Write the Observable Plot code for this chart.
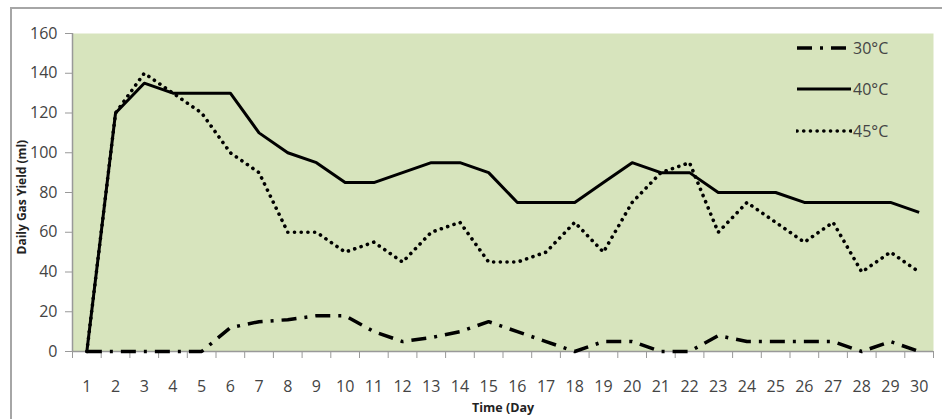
<!DOCTYPE html>
<html>
<head>
<meta charset="utf-8">
<script src="https://cdn.jsdelivr.net/npm/d3@7"></script>
<script src="https://cdn.jsdelivr.net/npm/@observablehq/plot@0.6"></script>
<style>
  html, body { margin: 0; padding: 0; background: #fff; }
  #wrap { position: relative; width: 942px; height: 419px; overflow: hidden; font-family: "Open Sans", sans-serif; }
  #border { position: absolute; left: 10px; top: 7px; width: 960px; height: 440px; border: 2px solid #a6a6a6; box-sizing: border-box; pointer-events: none; }
  #legend { position: absolute; left: 796px; top: 27px; }
  #legend .row { display: flex; align-items: center; height: 41.5px; }
  #legend span { font-size: 16px; color: #444; margin-left: 1px; }
</style>
</head>
<body>
<div id="wrap"><div id="border"></div><div id="chart"></div><div id="legend"></div></div>
<script>
const days = [1,2,3,4,5,6,7,8,9,10,11,12,13,14,15,16,17,18,19,20,21,22,23,24,25,26,27,28,29,30];
const t30 = [0,0,0,0,0,12,15,16,18,18,10,5,7,10,15,10,5,0,5,5,0,0,8,5,5,5,5,0,5,0];
const t40 = [0,120,135,130,130,130,110,100,95,85,85,90,95,95,90,75,75,75,85,95,90,90,80,80,80,75,75,75,75,70];
const t45 = [0,120,140,130,120,100,90,60,60,50,55,45,60,65,45,45,50,65,50,75,90,95,60,75,65,55,65,40,50,40];
const yTicks = [0,20,40,60,80,100,120,140,160];
const seriesNames = ["30°C","40°C","45°C"];
const yLabel = "Daily Gas Yield (ml)";
const xLabel = "Time (Day";

const styles = {
  "30°C": {strokeWidth: 3.5, strokeDasharray: "15,8,3,8", strokeLinecap: "butt"},
  "40°C": {strokeWidth: 3, strokeDasharray: null, strokeLinecap: "butt"},
  "45°C": {strokeWidth: 3.6, strokeDasharray: "0.1,6.6", strokeLinecap: "round"}
};
const seriesValues = {"30°C": t30, "40°C": t40, "45°C": t45};
const boundaries = [0.5, ...days.map(d => d + 0.5)];

const lineMarks = seriesNames.map(name => {
  const data = days.map((d, i) => ({day: d, value: seriesValues[name][i]}));
  const s = styles[name];
  return Plot.line(data, {x: "day", y: "value", stroke: "#000", strokeWidth: s.strokeWidth,
    strokeDasharray: s.strokeDasharray, strokeLinecap: s.strokeLinecap, strokeLinejoin: "round"});
});

const chart = Plot.plot({
  width: 942, height: 419,
  marginLeft: 72, marginRight: 9, marginTop: 33, marginBottom: 68,
  x: {domain: [0.5, 30.5]},
  y: {domain: [0, 160]},
  style: {fontFamily: "Open Sans, sans-serif", fontSize: "16px", color: "#444", background: "transparent"},
  marks: [
    Plot.frame({fill: "#d7e4bd", stroke: null}),
    Plot.ruleX([0.5], {stroke: "#999", strokeWidth: 1.5}),
    Plot.ruleY([0], {stroke: "#999", strokeWidth: 1.5}),
    Plot.axisY({ticks: yTicks, tickSize: 7, tickPadding: 8, label: null, stroke: "#999", fill: "#444"}),
    Plot.axisX({ticks: boundaries, tickSize: 7, tickFormat: () => "", label: null, stroke: "#999"}),
    Plot.axisX({ticks: days, tickSize: 0, tickPadding: 29, label: null, fill: "#444"}),
    ...lineMarks,
    Plot.text([yLabel], {text: d => d, frameAnchor: "left", rotate: -90, dx: -50, dy: 62,
      fontWeight: "bold", fontSize: 12, fill: "#222"}),
    Plot.text([xLabel], {text: d => d, frameAnchor: "bottom", dy: 60,
      fontWeight: "bold", fontSize: 12.5, fill: "#222"})
  ]
});
document.getElementById("chart").appendChild(chart);

// legend
const legend = d3.select("#legend");
seriesNames.forEach(name => {
  const s = styles[name];
  const row = legend.append("div").attr("class", "row");
  const svg = row.append("svg").attr("width", 56).attr("height", 10);
  svg.append("line").attr("x1", 1).attr("x2", 55).attr("y1", 5).attr("y2", 5)
    .attr("stroke", "#000").attr("stroke-width", s.strokeWidth)
    .attr("stroke-dasharray", s.strokeDasharray).attr("stroke-linecap", s.strokeLinecap);
  row.append("span").text(name);
});
</script>
</body>
</html>
